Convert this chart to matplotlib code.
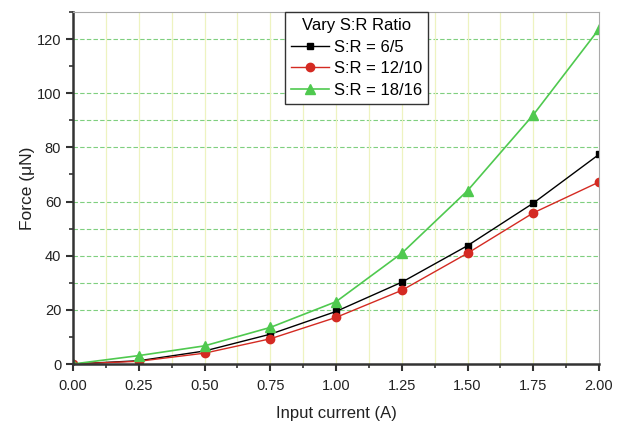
import matplotlib.pyplot as plt
from matplotlib.ticker import MultipleLocator

plt.rcParams['font.family'] = ['Liberation Sans', 'DejaVu Sans']

# data
current = [0, 0.25, 0.5, 0.75, 1.0, 1.25, 1.5, 1.75, 2.0]
force_6_5 = [0, 1.2, 4.8, 11, 19.4, 30.2, 43.7, 59.4, 77.4]
force_12_10 = [0, 1.0, 4.0, 9.3, 17.2, 27.2, 40.9, 55.8, 67.2]
force_18_16 = [0, 3.1, 6.7, 13.5, 23, 40.9, 64, 92, 123.7]
labels = ['S:R = 6/5', 'S:R = 12/10', 'S:R = 18/16']
hgrid = [20, 30, 40, 50, 60, 80, 90, 100, 120]

fig = plt.figure(figsize=(6.21, 4.21), dpi=100)
ax = fig.add_axes([73/621, 1-364/421, (599-73)/621, (364-12)/421])

# grid first so lines sit on top
for g in hgrid:
    ax.axhline(g, color='#7fcf7f', lw=0.8, ls=(0, (4, 2)), zorder=0)
for xv in [i * 0.125 for i in range(1, 16)]:
    ax.axvline(xv, color='#eef3c0', lw=0.9, zorder=0)

ax.plot(current, force_6_5, color='black', lw=1, marker='s', ms=5, label=labels[0])
ax.plot(current, force_12_10, color='#d42a22', lw=1, marker='o', ms=6, label=labels[1])
ax.plot(current, force_18_16, color='#4fc94f', lw=1.2, marker='^', ms=7, label=labels[2])

ax.set_xlim(0, 2.0)
ax.set_ylim(0, 130)
ax.xaxis.set_major_locator(MultipleLocator(0.25))
ax.xaxis.set_minor_locator(MultipleLocator(0.125))
ax.yaxis.set_major_locator(MultipleLocator(20))
ax.yaxis.set_minor_locator(MultipleLocator(10))
ax.xaxis.set_major_formatter(plt.FormatStrFormatter('%.2f'))
ax.set_yticks([0, 20, 40, 60, 80, 100, 120])

for s in ['left', 'bottom']:
    ax.spines[s].set_linewidth(1.8)
    ax.spines[s].set_color('#333333')
for s in ['top', 'right']:
    ax.spines[s].set_linewidth(0.8)
    ax.spines[s].set_color('#aaaaaa')

ax.tick_params(which='major', direction='out', length=5, width=1.5, color='#333333',
               labelsize=10.5, colors='#222222')
ax.tick_params(which='minor', direction='out', length=3, width=1.2, color='#333333')
ax.tick_params(axis='x', pad=6)

ax.set_xlabel('Input current (A)', fontsize=12, labelpad=9, color='#222222')
ax.set_ylabel('Force (μN)', fontsize=12.5, labelpad=1, color='#222222')

leg = ax.legend(title='Vary S:R Ratio', loc='upper left', bbox_to_anchor=(0.403, 1.0),
                borderaxespad=0, fontsize=12, title_fontsize=12, handlelength=2.3,
                handletextpad=0.3, borderpad=0.35, labelspacing=0.4,
                fancybox=False, framealpha=1)
leg.get_frame().set_edgecolor('#333333')
leg.get_frame().set_linewidth(1.0)

fig.savefig('out.png', dpi=100)
